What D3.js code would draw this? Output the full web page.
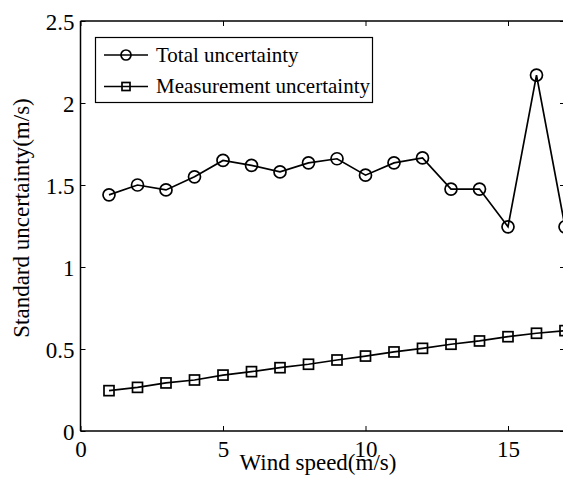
<!DOCTYPE html>
<html><head><meta charset="utf-8">
<script src="https://cdn.jsdelivr.net/npm/d3@7"></script>
</head><body style="margin:0"><svg id="c" width="563" height="489"></svg>
<script>
const windSpeed = [1,2,3,4,5,6,7,8,9,10,11,12,13,14,15,16,17];
const totalUncertainty = [1.44,1.50,1.47,1.55,1.65,1.62,1.58,1.635,1.66,1.56,1.635,1.665,1.475,1.475,1.245,2.17,1.245];
const measurementUncertainty = [0.246,0.266,0.293,0.311,0.341,0.362,0.386,0.407,0.433,0.457,0.482,0.504,0.529,0.549,0.575,0.596,0.612];
const xTicks = [0,5,10,15];
const yTicks = [0,0.5,1,1.5,2,2.5];
const yTickLabels = ["0","0.5","1","1.5","2","2.5"];
const seriesNames = ["Total uncertainty","Measurement uncertainty"];

const FONT = "Times New Roman";
const svg = d3.select("#c");
const L=80.5, T=21, B=431, R=565;
const x = d3.scaleLinear().domain([0,17]).range([L,R]);
const y = d3.scaleLinear().domain([0,2.5]).range([B,T]);

const gx = svg.append("g").attr("transform",`translate(0,${B})`)
  .call(d3.axisBottom(x).tickValues(xTicks).tickSize(-5).tickPadding(10).tickFormat(d3.format("d")));
const gy = svg.append("g").attr("transform",`translate(${L},0)`)
  .call(d3.axisLeft(y).tickValues(yTicks).tickSize(-5).tickPadding(6).tickFormat((d,i)=>yTickLabels[i]));
const gxt = svg.append("g").attr("transform",`translate(0,${T})`)
  .call(d3.axisTop(x).tickValues(xTicks).tickSize(-5).tickFormat(""));
const gyr = svg.append("g").attr("transform",`translate(${R},0)`)
  .call(d3.axisRight(y).tickValues(yTicks).tickSize(-5).tickFormat(""));
[gx,gy,gxt,gyr].forEach(g=>{
  g.attr("font-family",FONT).attr("font-size",23);
  g.selectAll(".domain").attr("stroke","#000").attr("stroke-width",1.5);
  g.selectAll(".tick line").attr("stroke","#000").attr("stroke-width",1);
  g.selectAll("text").attr("fill","#000");
});
gx.select(".domain").attr("d",`M${L},0H${R}`);
gy.select(".domain").attr("d",`M0,${B}V${T}`);
gxt.select(".domain").attr("d",`M${L},0H${R}`);
gyr.select(".domain").attr("d",`M0,${B}V${T}`);
gx.selectAll(".tick text").attr("dy","0.71em");
gy.selectAll(".tick text").attr("dy","0.36em");

const line = d3.line().x((d,i)=>x(windSpeed[i])).y(d=>y(d));
const plot = svg.append("g");
plot.append("path").datum(totalUncertainty).attr("d",line).attr("fill","none").attr("stroke","#000").attr("stroke-width",1.7);
plot.append("path").datum(measurementUncertainty).attr("d",line).attr("fill","none").attr("stroke","#000").attr("stroke-width",1.7);
plot.selectAll("circle.t").data(totalUncertainty).join("circle").attr("class","t")
  .attr("cx",(d,i)=>x(windSpeed[i])).attr("cy",d=>y(d)).attr("r",6)
  .attr("fill","none").attr("stroke","#000").attr("stroke-width",1.7);
plot.selectAll("rect.m").data(measurementUncertainty).join("rect").attr("class","m")
  .attr("x",(d,i)=>x(windSpeed[i])-5).attr("y",d=>y(d)-5).attr("width",10).attr("height",10)
  .attr("fill","none").attr("stroke","#000").attr("stroke-width",1.7);

const lg = svg.append("g");
lg.append("rect").attr("x",95.5).attr("y",37.5).attr("width",277).attr("height",65)
  .attr("fill","#fff").attr("stroke","#000").attr("stroke-width",1.2);
seriesNames.forEach((n,i)=>{
  const cy = 55 + i*31.5;
  lg.append("line").attr("x1",104).attr("x2",148).attr("y1",cy).attr("y2",cy).attr("stroke","#000").attr("stroke-width",1.7);
  if(i===0) lg.append("circle").attr("cx",126).attr("cy",cy).attr("r",5).attr("fill","none").attr("stroke","#000").attr("stroke-width",1.7);
  else lg.append("rect").attr("x",122).attr("y",cy-4).attr("width",8).attr("height",8).attr("fill","none").attr("stroke","#000").attr("stroke-width",1.7);
  lg.append("text").attr("x",156).attr("y",cy).attr("dy","0.33em").attr("font-family",FONT).attr("font-size",21).attr("fill","#000").text(n);
});

svg.append("text").attr("x",318).attr("y",470).attr("text-anchor","middle").attr("font-family",FONT).attr("font-size",23).attr("fill","#000").text("Wind speed(m/s)");
svg.append("text").attr("transform",`translate(29,218) rotate(-90)`).attr("text-anchor","middle").attr("font-family",FONT).attr("font-size",23).attr("fill","#000").text("Standard uncertainty(m/s)");
</script></body></html>
